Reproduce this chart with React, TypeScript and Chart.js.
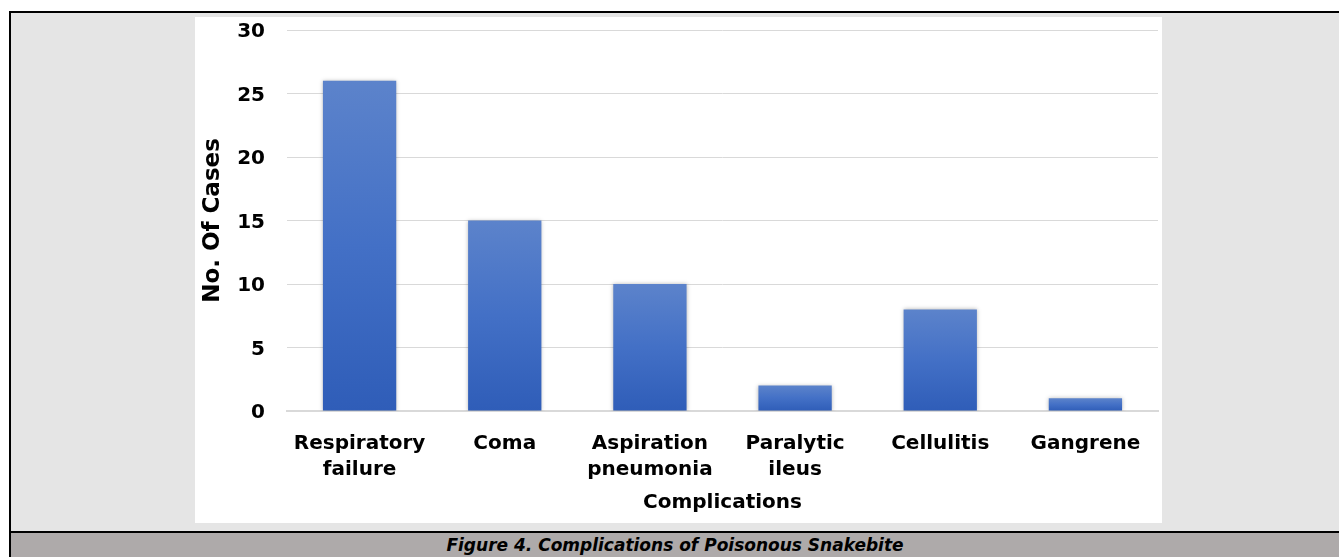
import React, { useEffect, useRef } from "react";
import { Chart, registerables } from "chart.js";

Chart.register(...registerables);

const categories: (string | string[])[] = [
  ["Respiratory", "failure"],
  "Coma",
  ["Aspiration", "pneumonia"],
  ["Paralytic", "ileus"],
  "Cellulitis",
  "Gangrene",
];
const cases: number[] = [26, 15, 10, 2, 8, 1];
const yTicks: number[] = [0, 5, 10, 15, 20, 25, 30];
const yTitle = "No. Of Cases";
const xTitle = "Complications";
const caption = "Figure 4. Complications of Poisonous Snakebite";

const FONT = "'DejaVu Sans', Verdana, sans-serif";

const barShadow = {
  id: "barShadow",
  beforeDatasetsDraw(chart: any) {
    const ctx = chart.ctx;
    ctx.save();
    ctx.shadowColor = "rgba(0,0,0,0.28)";
    ctx.shadowBlur = 4;
    ctx.shadowOffsetX = 0;
    ctx.shadowOffsetY = 0;
  },
  afterDatasetsDraw(chart: any) {
    chart.ctx.restore();
  },
};

function ChartBox() {
  const ref = useRef<HTMLCanvasElement | null>(null);
  useEffect(() => {
    if (!ref.current) return;
    const chart = new Chart(ref.current, {
      type: "bar",
      data: {
        labels: categories,
        datasets: [
          {
            data: cases,
            backgroundColor: (ctx: any) => {
              const c = ctx.chart;
              const ys = c.scales && c.scales.y;
              if (!ys || ctx.type !== "data") return "#3d6ac4";
              const top = ys.getPixelForValue(ctx.raw);
              const bottom = ys.getPixelForValue(0);
              if (!isFinite(top) || !isFinite(bottom) || top === bottom) return "#3d6ac4";
              const g = c.ctx.createLinearGradient(0, top, 0, bottom);
              g.addColorStop(0, "#5c83cb");
              g.addColorStop(0.5, "#4370c6");
              g.addColorStop(1, "#2f5db8");
              return g;
            },
            borderWidth: 0,
            barPercentage: 0.505,
            categoryPercentage: 1,
          },
        ],
      },
      options: {
        animation: false,
        responsive: false,
        maintainAspectRatio: false,
        layout: { padding: { top: 13, right: 4, left: 0, bottom: 0 } },
        plugins: { legend: { display: false }, tooltip: { enabled: false } },
        scales: {
          x: {
            grid: { display: false, drawTicks: false },
            border: { display: true, color: "#d9d9d9", width: 2 },
            ticks: {
              color: "#000",
              font: { family: FONT, size: 20, weight: "bold", lineHeight: 1.3 },
              padding: 20,
              maxRotation: 0,
              autoSkip: false,
            },
            title: {
              display: true,
              text: xTitle,
              color: "#000",
              font: { family: FONT, size: 20, weight: "bold" },
              padding: { top: 0, bottom: 8 },
            },
            afterFit: (s: any) => {
              s.height = 112;
              s.paddingLeft = 0;
              s.paddingRight = 0;
            },
          },
          y: {
            min: 0,
            max: 30,
            afterBuildTicks: (s: any) => {
              s.ticks = yTicks.map((v) => ({ value: v }));
            },
            grid: { color: "#d9d9d9", lineWidth: 1, drawTicks: false },
            border: { display: false },
            ticks: {
              color: "#000",
              font: { family: FONT, size: 20, weight: "bold" },
              padding: 22,
              labelOffset: 2,
            },
            title: {
              display: true,
              text: yTitle,
              color: "#000",
              font: { family: FONT, size: 23, weight: "bold" },
              padding: { top: 4, bottom: 0 },
            },
            afterFit: (s: any) => {
              s.width = 92;
              s.paddingTop = 0;
              s.paddingBottom = 0;
            },
          },
        },
      },
      plugins: [barShadow],
    });
    return () => chart.destroy();
  }, []);
  return <canvas ref={ref} width={967} height={506} style={{ display: "block", width: 967, height: 506 }} />;
}

export default function App() {
  return (
    <div style={{ position: "absolute", left: 0, top: 0, width: 1339, height: 557, background: "#fff", overflow: "hidden" }}>
      <div style={{ position: "absolute", left: 11, top: 13, width: 1328, height: 518, background: "#e5e5e5" }} />
      <div style={{ position: "absolute", left: 9, top: 11, width: 1330, height: 2, background: "#000" }} />
      <div style={{ position: "absolute", left: 9, top: 11, width: 2, height: 546, background: "#000" }} />
      <div style={{ position: "absolute", left: 9, top: 531, width: 1330, height: 2, background: "#000" }} />
      <div
        style={{
          position: "absolute",
          left: 11,
          top: 533,
          width: 1328,
          height: 24,
          background: "#aeaaaa",
          color: "#000",
          fontFamily: FONT,
          fontWeight: "bold",
          fontStyle: "italic",
          fontSize: 17,
          lineHeight: "24px",
          textAlign: "center",
          whiteSpace: "nowrap",
        }}
      >
        {caption}
      </div>
      <div style={{ position: "absolute", left: 195, top: 17, width: 967, height: 506, background: "#fff" }}>
        <ChartBox />
      </div>
    </div>
  );
}
